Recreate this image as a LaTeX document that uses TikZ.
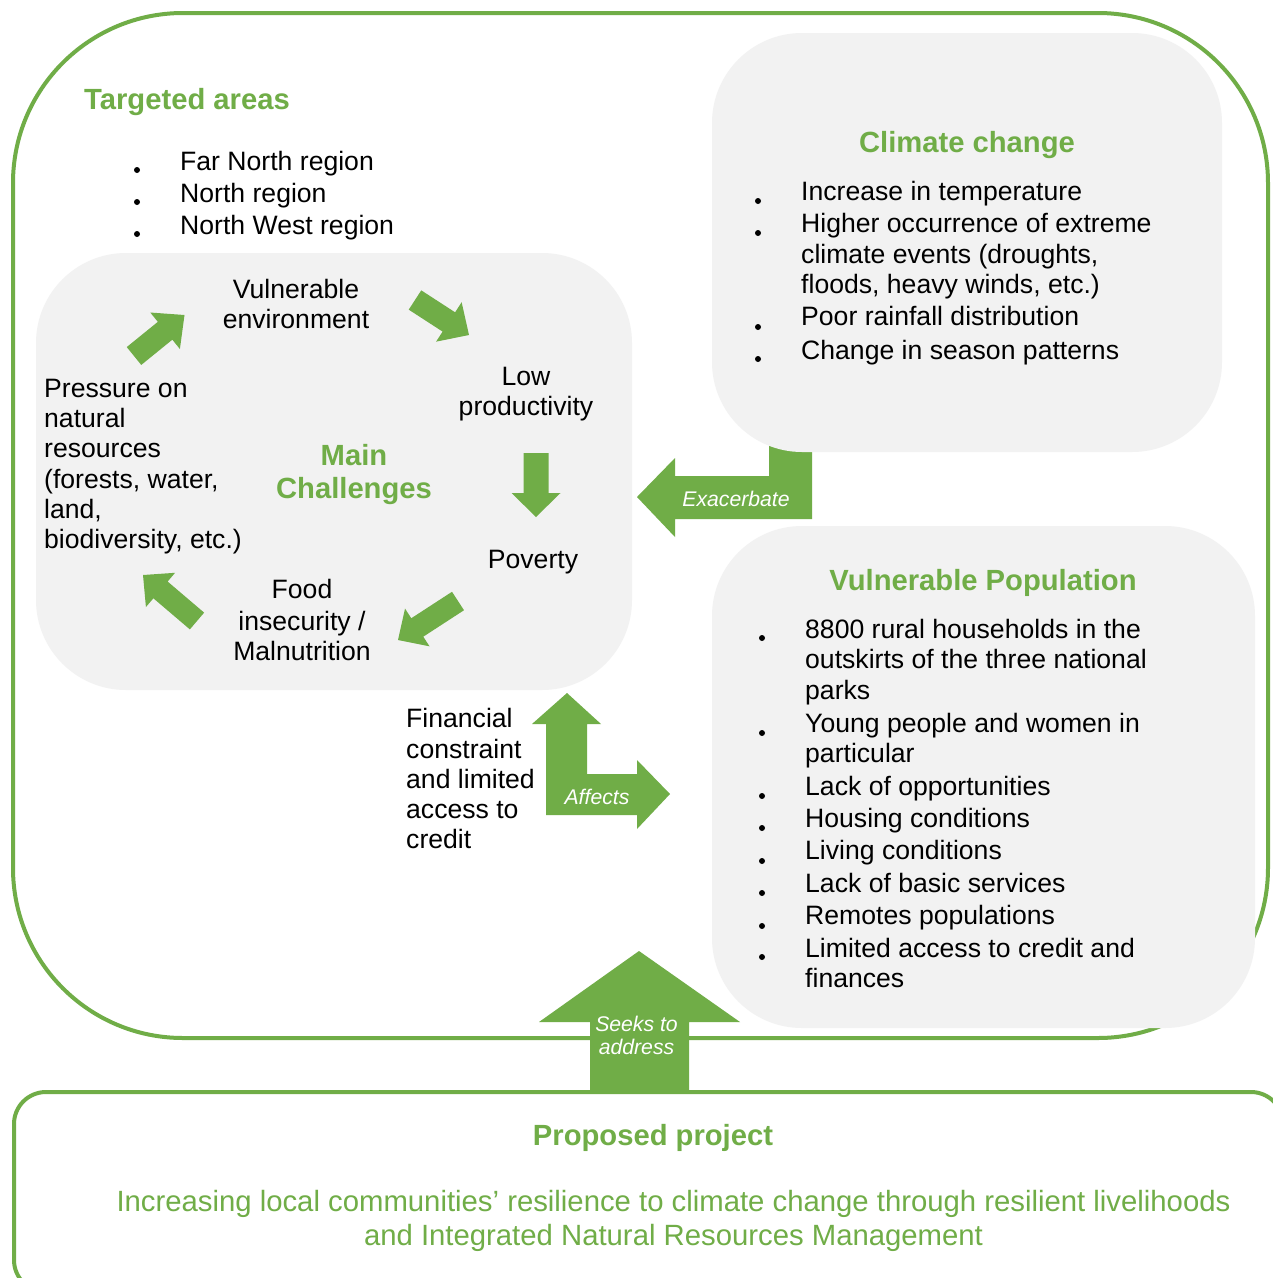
\documentclass[tikz,border=0pt]{standalone}
\usepackage{fontspec}
\setmainfont{Liberation Sans}
\usetikzlibrary{calc}
\definecolor{pgreen}{HTML}{70AD47}
\definecolor{pgray}{HTML}{F2F2F2}
% block arrow: name, tail, tip, half shaft width, half head width, head length
\newcommand{\blockarrow}[6]{%
  \coordinate (#1-h) at ($(#3)!#6!(#2)$);
  \fill[arrowfill] ($(#2)!#4!90:(#3)$) -- ($(#1-h)!#4!90:(#3)$) -- ($(#1-h)!#5!90:(#3)$) -- (#3)
    -- ($(#1-h)!#5!-90:(#3)$) -- ($(#1-h)!#4!-90:(#3)$) -- ($(#2)!#4!-90:(#3)$) -- cycle;}
\begin{document}
\begin{tikzpicture}[x=1pt,y=-1pt,
  txt/.style={font=\fontsize{26.6pt}{30.6pt}\selectfont, inner sep=0pt, anchor=base west},
  ctxt/.style={txt, anchor=base},
  ttl/.style={font=\fontsize{29.2pt}{34pt}\selectfont\bfseries, text=pgreen, inner sep=0pt, anchor=base},
  lbl/.style={font=\fontsize{21.2pt}{24pt}\selectfont\itshape, text=white, inner sep=0pt, anchor=base},
  goal/.style={font=\fontsize{29.3pt}{34pt}\selectfont, text=pgreen, inner sep=0pt, anchor=base},
  graybox/.style={rectangle, fill=pgray, draw=none, rounded corners=90pt, inner sep=0pt},
  frame/.style={draw=pgreen, line width=4pt},
  arrowfill/.style={fill=pgreen, draw=none},
  bul/.style={fill=black}]
\useasboundingbox (0,0) rectangle (1273,1278);
\fill[white] (0,0) rectangle (1273,1278);
\clip (0,0) rectangle (1273,1278);

% frames
\draw[frame, rounded corners=170pt] (13,13) rectangle (1268,1038);
\draw[frame, rounded corners=32pt] (14,1092) rectangle (1283,1292);

% Exacerbate arrow (behind climate box)
\fill[arrowfill] (637,497) -- (675,458) -- (675,476) -- (769,476) -- (769,445) -- (812,445)
  -- (812,519) -- (675,519) -- (675,537) -- cycle;

% gray boxes
\node[graybox, minimum width=510pt, minimum height=419pt] (climate) at (967,242.5) {};
\node[graybox, minimum width=596pt, minimum height=437pt] (challenges) at (334,471.5) {};
\node[graybox, minimum width=543pt, minimum height=502pt] (population) at (983.5,777) {};

% Affects arrow
\fill[arrowfill] (567,693) -- (601,724) -- (587,724) -- (587,774) -- (637,774) -- (637,760)
  -- (670,794) -- (637,829) -- (637,815) -- (546,815) -- (546,724) -- (532,724) -- cycle;

% Seeks to address arrow
\fill[arrowfill] (639,951) -- (740,1022) -- (689,1022) -- (689,1093) -- (590,1093)
  -- (590,1022) -- (539,1022) -- cycle;

% cycle arrows
\coordinate (a1) at (134,356);   \coordinate (a2) at (184.5,315);
\coordinate (b1) at (415,300);   \coordinate (b2) at (469,335);
\coordinate (c1) at (536,453);   \coordinate (c2) at (536,517);
\coordinate (d1) at (458,601);   \coordinate (d2) at (398,640);
\coordinate (e1) at (197,621);   \coordinate (e2) at (143,575);
\blockarrow{aa}{a1}{a2}{11.5pt}{23.5pt}{25pt}
\blockarrow{ab}{b1}{b2}{11.5pt}{23.5pt}{24pt}
\blockarrow{ac}{c1}{c2}{12.5pt}{24.5pt}{24pt}
\blockarrow{ad}{d1}{d2}{11pt}{22.5pt}{23pt}
\blockarrow{ae}{e1}{e2}{11pt}{22.5pt}{23pt}

% arrow labels
\node[lbl] (lexa) at (736,506) {Exacerbate};
\node[lbl] (laff) at (597,804) {Affects};
\node[lbl] (lsk1) at (636.5,1031) {Seeks to};
\node[lbl] (lsk2) at (636.5,1054) {address};

% Targeted areas
\node[ttl, anchor=base west] (ta) at (84,109) {Targeted areas};
\node[txt] (ta1) at (180,170) {Far North region};
\node[txt] (ta2) at (180,202) {North region};
\node[txt] (ta3) at (180,234) {North West region};
\foreach \yy in {170,202,234} \fill[bul] (137,\yy) circle[radius=3pt];

% Climate change
\node[ttl] (cc) at (967,152) {Climate change};
\node[txt] (cc1) at (801,200) {Increase in temperature};
\node[txt] (cc2) at (801,232) {Higher occurrence of extreme};
\node[txt] (cc2b) at (801,263) {climate events (droughts,};
\node[txt] (cc2c) at (801,293) {floods, heavy winds, etc.)};
\node[txt] (cc3) at (801,325) {Poor rainfall distribution};
\node[txt] (cc4) at (801,359) {Change in season patterns};
\foreach \yy in {201,233,327,359} \fill[bul] (758,\yy) circle[radius=3pt];

% Main challenges cycle
\node[ctxt] (ve1) at (296,298) {Vulnerable};
\node[ctxt] (ve2) at (296,328) {environment};
\node[ctxt] (lp1) at (526,385) {Low};
\node[ctxt] (lp2) at (526,415) {productivity};
\node[ctxt] (pov) at (533,568) {Poverty};
\node[ctxt] (fi1) at (302,598) {Food};
\node[ctxt] (fi2) at (302,630) {insecurity /};
\node[ctxt] (fi3) at (302,660) {Malnutrition};
\node[ttl] (mc1) at (354,465) {Main};
\node[ttl] (mc2) at (354,498) {Challenges};
\node[txt] (pr1) at (44,397) {Pressure on};
\node[txt] (pr2) at (44,427) {natural};
\node[txt] (pr3) at (44,457) {resources};
\node[txt] (pr4) at (44,488) {(forests, water,};
\node[txt] (pr5) at (44,518) {land,};
\node[txt] (pr6) at (44,548) {biodiversity, etc.)};

% Financial constraint
\node[txt] (fc1) at (406,727) {Financial};
\node[txt] (fc2) at (406,758) {constraint};
\node[txt] (fc3) at (406,788) {and limited};
\node[txt] (fc4) at (406,818) {access to};
\node[txt] (fc5) at (406,848) {credit};

% Vulnerable population
\node[ttl] (vp) at (983,590) {Vulnerable Population};
\node[txt] (vp1) at (805,638) {8800 rural households in the};
\node[txt] (vp1b) at (805,668) {outskirts of the three national};
\node[txt] (vp1c) at (805,699) {parks};
\node[txt] (vp2) at (805,732) {Young people and women in};
\node[txt] (vp2b) at (805,762) {particular};
\node[txt] (vp3) at (805,795) {Lack of opportunities};
\node[txt] (vp4) at (805,827) {Housing conditions};
\node[txt] (vp5) at (805,859) {Living conditions};
\node[txt] (vp6) at (805,892) {Lack of basic services};
\node[txt] (vp7) at (805,924) {Remotes populations};
\node[txt] (vp8) at (805,957) {Limited access to credit and};
\node[txt] (vp8b) at (805,987) {finances};
\foreach \yy in {638,733,796,828,861,893,926,957} \fill[bul] (762,\yy) circle[radius=3pt];

% Proposed project
\node[ttl] (pp) at (653,1145) {Proposed project};
\node[goal] (pg1) at (673.5,1211) {Increasing local communities’ resilience to climate change through resilient livelihoods};
\node[goal] (pg2) at (673.5,1245) {and Integrated Natural Resources Management};
\end{tikzpicture}
\end{document}
